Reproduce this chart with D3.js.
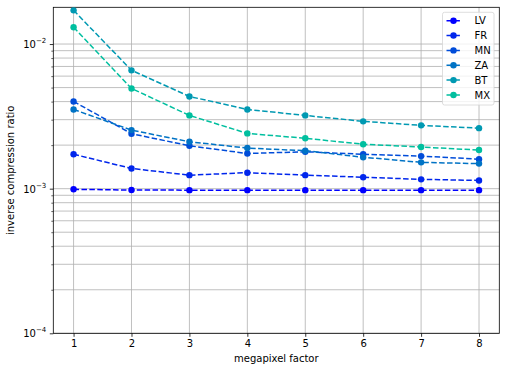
<!DOCTYPE html>
<html>
<head>
<meta charset="utf-8">
<script src="https://cdn.jsdelivr.net/npm/d3@7"></script>
<style>
  body { margin: 0; background: #fff; }
  svg { display: block; font-family: "DejaVu Sans", sans-serif; }
</style>
</head>
<body>
<svg id="chart" width="506" height="371"></svg>
<script>
const xValues = [1, 2, 3, 4, 5, 6, 7, 8];
const seriesNames = ["LV", "FR", "MN", "ZA", "BT", "MX"];
const seriesColors = ["#0000ff", "#0026ec", "#004cd9", "#0073c5", "#0099b2", "#00bf9f"];
const LV = [0.00099, 0.000978, 0.000977, 0.000977, 0.000977, 0.000977, 0.000977, 0.000977];
const FR = [0.00173, 0.00138, 0.00124, 0.00129, 0.00124, 0.00120, 0.00116, 0.00114];
const MN = [0.00401, 0.00240, 0.00198, 0.00175, 0.00180, 0.00173, 0.00168, 0.00160];
const ZA = [0.00353, 0.00254, 0.00211, 0.00191, 0.00183, 0.00165, 0.00152, 0.00149];
const BT = [0.01710, 0.00658, 0.00434, 0.00353, 0.00321, 0.00292, 0.00274, 0.00262];
const MX = [0.01305, 0.00493, 0.00321, 0.00241, 0.00223, 0.00203, 0.00194, 0.00185];
const seriesValues = [LV, FR, MN, ZA, BT, MX];
const xTickLabels = ["1", "2", "3", "4", "5", "6", "7", "8"];
const yMajorTicks = [1e-4, 1e-3, 1e-2];
const yMajorLabels = ["−4", "−3", "−2"];
const xTitle = "megapixel factor";
const yTitle = "inverse compression ratio";

const svg = d3.select("#chart");
const L = 53.3, T = 7.3, R = 499.3, B = 333.3;

const x = d3.scaleLinear().domain([0.65, 8.35]).range([L, R]);
const y = d3.scaleLog().domain([1e-4, 0.01795]).range([B, T]);

// minor ticks
const yMinor = [];
[1e-4, 1e-3, 1e-2].forEach(d => { for (let k = 2; k <= 9; k++) { const v = d * k; if (v <= 0.01795) yMinor.push(v); } });

const grid = svg.append("g");
// horizontal grid (major + minor)
grid.selectAll("line.hy").data(yMajorTicks.concat(yMinor)).join("line")
  .attr("x1", L).attr("x2", R)
  .attr("y1", d => y(d)).attr("y2", d => y(d))
  .attr("stroke", "#b0b0b0").attr("stroke-width", 0.8);
// vertical grid
grid.selectAll("line.vx").data(xValues).join("line")
  .attr("x1", d => x(d)).attr("x2", d => x(d))
  .attr("y1", T).attr("y2", B)
  .attr("stroke", "#b0b0b0").attr("stroke-width", 0.8);

// axes
const xAxis = d3.axisBottom(x).tickValues(xValues).tickFormat((d, i) => xTickLabels[i]).tickSize(3.5).tickPadding(3.5);
const gx = svg.append("g").attr("transform", `translate(0,${B})`).call(xAxis);
gx.select(".domain").remove();
gx.selectAll("line").attr("stroke", "#000").attr("stroke-width", 0.8);
gx.selectAll("text").attr("font-size", 10).attr("fill", "#000").attr("font-family", "DejaVu Sans");

const yAxis = d3.axisLeft(y).tickValues(yMajorTicks).tickFormat(() => "").tickSize(3.5);
const gy = svg.append("g").attr("transform", `translate(${L},0)`).call(yAxis);
gy.select(".domain").remove();
gy.selectAll("line").attr("stroke", "#000").attr("stroke-width", 0.8);
const yAxisMinor = d3.axisLeft(y).tickValues(yMinor).tickFormat(() => "").tickSize(2);
const gym = svg.append("g").attr("transform", `translate(${L},0)`).call(yAxisMinor);
gym.select(".domain").remove();
gym.selectAll("line").attr("stroke", "#000").attr("stroke-width", 0.6);

// y tick labels with superscript
const yl = svg.append("g");
yMajorTicks.forEach((v, i) => {
  const t = yl.append("text").attr("x", L - 7).attr("y", y(v) + 4)
    .attr("text-anchor", "end").attr("font-size", 10).attr("fill", "#000");
  t.append("tspan").text("10");
  t.append("tspan").attr("dy", -5).attr("font-size", 7).text(yMajorLabels[i]);
});

// spines
svg.append("rect").attr("x", L).attr("y", T).attr("width", R - L).attr("height", B - T)
  .attr("fill", "none").attr("stroke", "#000").attr("stroke-width", 0.8);

// series
const line = d3.line().x((d, i) => x(xValues[i])).y(d => y(d));
seriesValues.forEach((vals, si) => {
  const g = svg.append("g");
  g.append("path").attr("d", line(vals)).attr("fill", "none")
    .attr("stroke", seriesColors[si]).attr("stroke-width", 1.5)
    .attr("stroke-dasharray", "5.5,2.4");
  g.selectAll("circle").data(vals).join("circle")
    .attr("cx", (d, i) => x(xValues[i])).attr("cy", d => y(d)).attr("r", 3.2)
    .attr("fill", seriesColors[si]);
});

// axis titles
svg.append("text").attr("x", (L + R) / 2).attr("y", 362).attr("text-anchor", "middle")
  .attr("font-size", 10).text(xTitle);
svg.append("text").attr("transform", `translate(14,${(T + B) / 2}) rotate(-90)`)
  .attr("text-anchor", "middle").attr("font-size", 10).text(yTitle);

// legend
const lg = svg.append("g");
lg.append("rect").attr("x", 442.5).attr("y", 12.3).attr("width", 51.5).attr("height", 92.7)
  .attr("rx", 2).attr("fill", "#fff").attr("fill-opacity", 0.8)
  .attr("stroke", "#d6d6d6").attr("stroke-width", 0.8);
seriesNames.forEach((name, i) => {
  const cy = 20.7 + i * 14.85;
  lg.append("line").attr("x1", 446.5).attr("x2", 461).attr("y1", cy).attr("y2", cy)
    .attr("stroke", seriesColors[i]).attr("stroke-width", 1.5).attr("stroke-dasharray", "5.5,2.4");
  lg.append("circle").attr("cx", 453.5).attr("cy", cy).attr("r", 3.2).attr("fill", seriesColors[i]);
  lg.append("text").attr("x", 474.5).attr("y", cy + 3.6).attr("font-size", 10).text(name);
});
</script>
</body>
</html>
